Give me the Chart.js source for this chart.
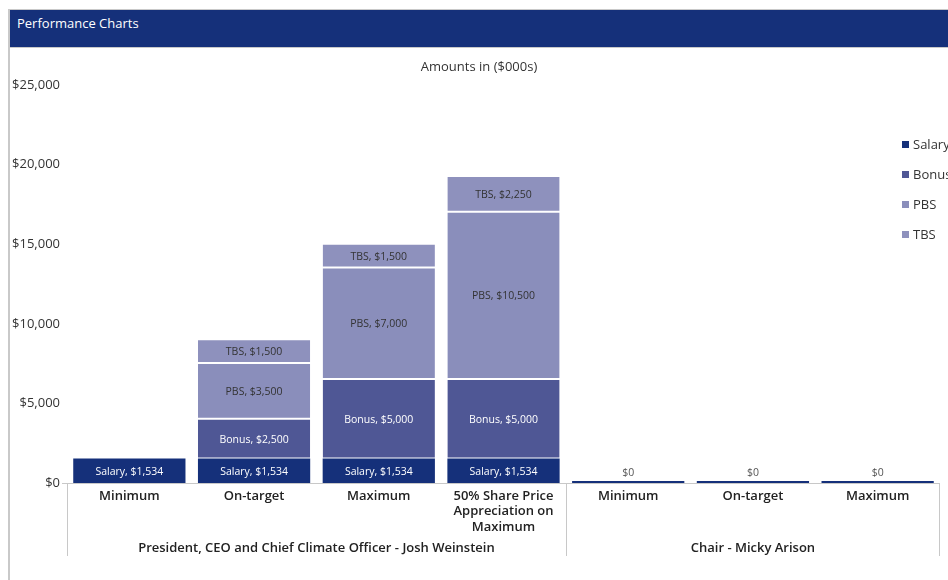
<!DOCTYPE html>
<html>
<head>
<meta charset="utf-8">
<script src="https://cdn.jsdelivr.net/npm/chart.js@4.4.1/dist/chart.umd.min.js"></script>
<style>
    html, body { margin: 0; padding: 0; background: #fff; overflow: hidden; }
    body { width: 948px; height: 580px; position: relative; font-family: "Open Sans", sans-serif; }
    #frame { position: absolute; left: 8px; top: 9px; width: 940px; height: 571px;
             border-left: 2px solid #c9c9c9; border-top: 1px solid #c9c9c9; }
    #header { position: absolute; left: 10px; top: 10px; width: 938px; height: 37px;
              background: #15307a; border-bottom: 1px solid #c9c9c9; color: #fff; font-size: 13px; }
    #header span { position: absolute; left: 7px; top: 4px; }
    #holder { position: absolute; left: 10px; top: 48px; width: 938px; height: 532px; }
</style>
</head>
<body>
<div id="frame"></div>
<div id="header"><span>Performance Charts</span></div>
<div id="holder"><canvas id="diagram"></canvas></div>
<script type="text/javascript">
    // chart data
    var categories = ['Minimum', 'On-target', 'Maximum', ['50% Share Price', 'Appreciation on', 'Maximum'], 'Minimum', 'On-target', 'Maximum'];
    var salary = [1534, 1534, 1534, 1534, 0, 0, 0];
    var bonus = [0, 2500, 5000, 5000, 0, 0, 0];
    var pbs = [0, 3500, 7000, 10500, 0, 0, 0];
    var tbs = [0, 1500, 1500, 2250, 0, 0, 0];
    var groupNames = ['President, CEO and Chief Climate Officer - Josh Weinstein', 'Chair - Micky Arison'];
    var groupStarts = [0, 4];
    var groupEnds = [3, 6];
    var yTicks = [0, 5000, 10000, 15000, 20000, 25000];

    var seriesNames = ['Salary', 'Bonus', 'PBS', 'TBS'];
    var seriesColours = ['#15307a', '#4f5795', '#8a8ebb', '#8e91bd'];
    var labelColours = ['#ffffff', '#ffffff', '#333333', '#333333'];
    var FONT = '"Open Sans", sans-serif';

    function money(v) {
        return '$' + v.toLocaleString('en-US');
    }

    // draws the axis line and group separators under the bars
    var groupLines = {
        id: 'groupLines',
        beforeDatasetsDraw: function(chart) {
            var ctx = chart.ctx, x = chart.scales.x, area = chart.chartArea;
            var half = (x.getPixelForValue(1) - x.getPixelForValue(0)) / 2;
            ctx.save();
            ctx.strokeStyle = '#c8c8c8';
            ctx.lineWidth = 1;
            ctx.beginPath();
            ctx.moveTo(area.left - 5, area.bottom + 0.5);
            ctx.lineTo(area.right, area.bottom + 0.5);
            for (var g = 0; g < groupStarts.length; g++) {
                var l = Math.round(x.getPixelForValue(groupStarts[g]) - half) + 0.5;
                ctx.moveTo(l, area.bottom);
                ctx.lineTo(l, area.bottom + 73);
            }
            var r = Math.round(x.getPixelForValue(groupEnds[groupEnds.length - 1]) + half) - 0.5;
            ctx.moveTo(r, area.bottom);
            ctx.lineTo(r, area.bottom + 73);
            ctx.stroke();
            ctx.restore();
        },
        afterDraw: function(chart) {
            var ctx = chart.ctx, x = chart.scales.x, area = chart.chartArea;
            ctx.save();
            ctx.fillStyle = '#222';
            ctx.font = '600 13px ' + FONT;
            ctx.textAlign = 'center';
            ctx.textBaseline = 'middle';
            for (var g = 0; g < groupNames.length; g++) {
                var cx = (x.getPixelForValue(groupStarts[g]) + x.getPixelForValue(groupEnds[g])) / 2;
                ctx.fillText(groupNames[g], cx, area.bottom + 65);
            }
            // title
            ctx.font = '13px ' + FONT;
            ctx.fillStyle = '#333';
            ctx.fillText('Amounts in ($000s)', chart.width / 2, 19);
            // legend
            ctx.textAlign = 'left';
            for (var i = 0; i < seriesNames.length; i++) {
                var ly = 97 + i * 30;
                ctx.fillStyle = seriesColours[i];
                ctx.fillRect(892, ly - 4, 7, 7);
                ctx.fillStyle = '#333';
                ctx.fillText(seriesNames[i], 903, ly);
            }
            ctx.restore();
        }
    };

    // segment labels like "Bonus, $2,500"
    var segmentLabels = {
        id: 'segmentLabels',
        afterDatasetsDraw: function(chart) {
            var ctx = chart.ctx;
            ctx.save();
            ctx.font = '10.5px ' + FONT;
            ctx.textAlign = 'center';
            ctx.textBaseline = 'middle';
            chart.data.datasets.forEach(function(ds, di) {
                var meta = chart.getDatasetMeta(di);
                meta.data.forEach(function(bar, i) {
                    var v = ds.data[i];
                    if (v > 0) {
                        ctx.fillStyle = labelColours[di];
                        ctx.fillText(ds.label + ', ' + money(v), bar.x, (bar.y + bar.base) / 2 + 1);
                    }
                    else if (di == 0) {
                        var total = salary[i] + bonus[i] + pbs[i] + tbs[i];
                        if (total == 0) {
                            ctx.fillStyle = '#555';
                            ctx.fillText(money(0), bar.x, bar.base - 10);
                        }
                    }
                });
            });
            ctx.restore();
        }
    };

    function makeSet(i, values) {
        return {
            label: seriesNames[i],
            data: values,
            backgroundColor: seriesColours[i],
            borderColor: '#ffffff',
            borderWidth: i == 0 ? 0 : {top: 1, bottom: 1, left: 0, right: 0},
            borderSkipped: false,
            minBarLength: i == 0 ? 2 : 0,
            categoryPercentage: 0.9,
            barPercentage: 1
        };
    }

    var myChart = new Chart(document.getElementById('diagram'), {
        type: 'bar',
        data: {
            labels: categories,
            datasets: [makeSet(0, salary), makeSet(1, bonus), makeSet(2, pbs), makeSet(3, tbs)]
        },
        options: {
            responsive: true,
            maintainAspectRatio: false,
            animation: false,
            layout: { padding: { top: 37, right: 8, left: 0, bottom: 0 } },
            plugins: {
                legend: { display: false },
                title: { display: false },
                tooltip: { enabled: false }
            },
            scales: {
                x: {
                    stacked: true,
                    grid: { display: false, drawTicks: false },
                    border: { display: false },
                    ticks: {
                        padding: 5,
                        color: '#222',
                        font: { family: FONT, size: 13, weight: '600', lineHeight: 1.2 },
                        maxRotation: 0,
                        autoSkip: false
                    },
                    afterFit: function(scale) { scale.height = 97; }
                },
                y: {
                    stacked: true,
                    min: 0,
                    max: 25000,
                    grid: { display: false, drawTicks: false },
                    border: { display: false },
                    afterBuildTicks: function(scale) {
                        scale.ticks = yTicks.map(function(v) { return { value: v }; });
                    },
                    ticks: {
                        padding: 7,
                        color: '#333',
                        font: { family: FONT, size: 13 },
                        callback: function(v) { return money(v); }
                    },
                    afterFit: function(scale) { scale.width = 57; }
                }
            }
        },
        plugins: [groupLines, segmentLabels]
    });
</script>
</body>
</html>
